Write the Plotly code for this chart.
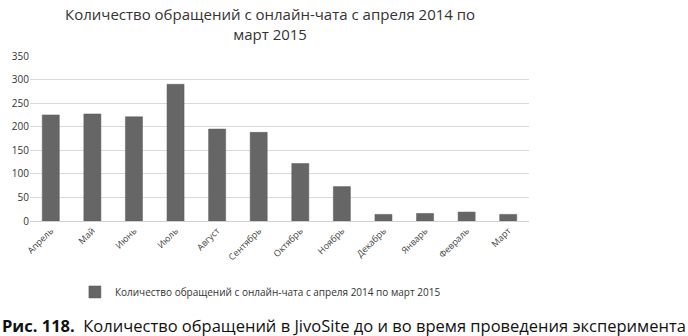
import plotly.graph_objects as go

months = ["Апрель", "Май", "Июнь", "Июль", "Август", "Сентябрь", "Октябрь",
          "Ноябрь", "Декабрь", "Январь", "Февраль", "Март"]
values = [225, 227, 221, 290, 195, 188, 122, 73, 14, 16, 19, 14]
series_name = "Количество обращений с онлайн-чата с апреля 2014 по март 2015"
y_ticks = [0, 50, 100, 150, 200, 250, 300, 350]
chart_title = "Количество обращений с онлайн-чата с апреля 2014 по<br>март 2015"
caption = "<b>Рис. 118.</b>  Количество обращений в JivoSite до и во время проведения эксперимента"

FONT = "Open Sans"
PLOT_H = 165.0
PLOT_W = 499.0

fig = go.Figure()
fig.add_trace(go.Bar(
    x=months, y=values, name=series_name,
    marker=dict(color="#666666", line=dict(color="#5a5a5a", width=0.5)),
    width=0.41, showlegend=True,
))

fig.update_layout(
    width=688, height=336,
    margin=dict(l=30, r=159, t=56, b=115),
    paper_bgcolor="white", plot_bgcolor="white",
    font=dict(family=FONT, size=10, color="#333333"),
    xaxis=dict(
        tickangle=-45, tickfont=dict(size=9, color="#444444"),
        showline=True, linecolor="#d0d0d0", linewidth=1,
        ticks="", showgrid=False,
    ),
    yaxis=dict(
        range=[0, 350], tickvals=y_ticks,
        showgrid=True, gridcolor="#d9d9d9", gridwidth=1,
        zeroline=False, ticks="", tickfont=dict(size=10, color="#333333"),
        ticklabelstandoff=0,
    ),
    legend=dict(
        orientation="h", x=0.09, xanchor="left", y=-0.43, yanchor="middle",
        font=dict(size=10, color="#333333"), itemwidth=30,
    ),
    bargap=0.59,
)

# chart title (two lines)
fig.add_annotation(
    xref="paper", yref="paper", x=(270 - 30) / PLOT_W, y=(221 - 2) / PLOT_H,
    xanchor="center", yanchor="top", showarrow=False,
    text=chart_title, align="center",
    font=dict(family=FONT, size=15, color="#333333"),
)

fig.add_annotation(
    xref="paper", yref="paper", x=-30 / PLOT_W, y=(221 - 325) / PLOT_H,
    xanchor="left", yanchor="middle", showarrow=False,
    text=caption,
    font=dict(family=FONT, size=16.5, color="#111111"),
)

fig.write_html("out.html")
